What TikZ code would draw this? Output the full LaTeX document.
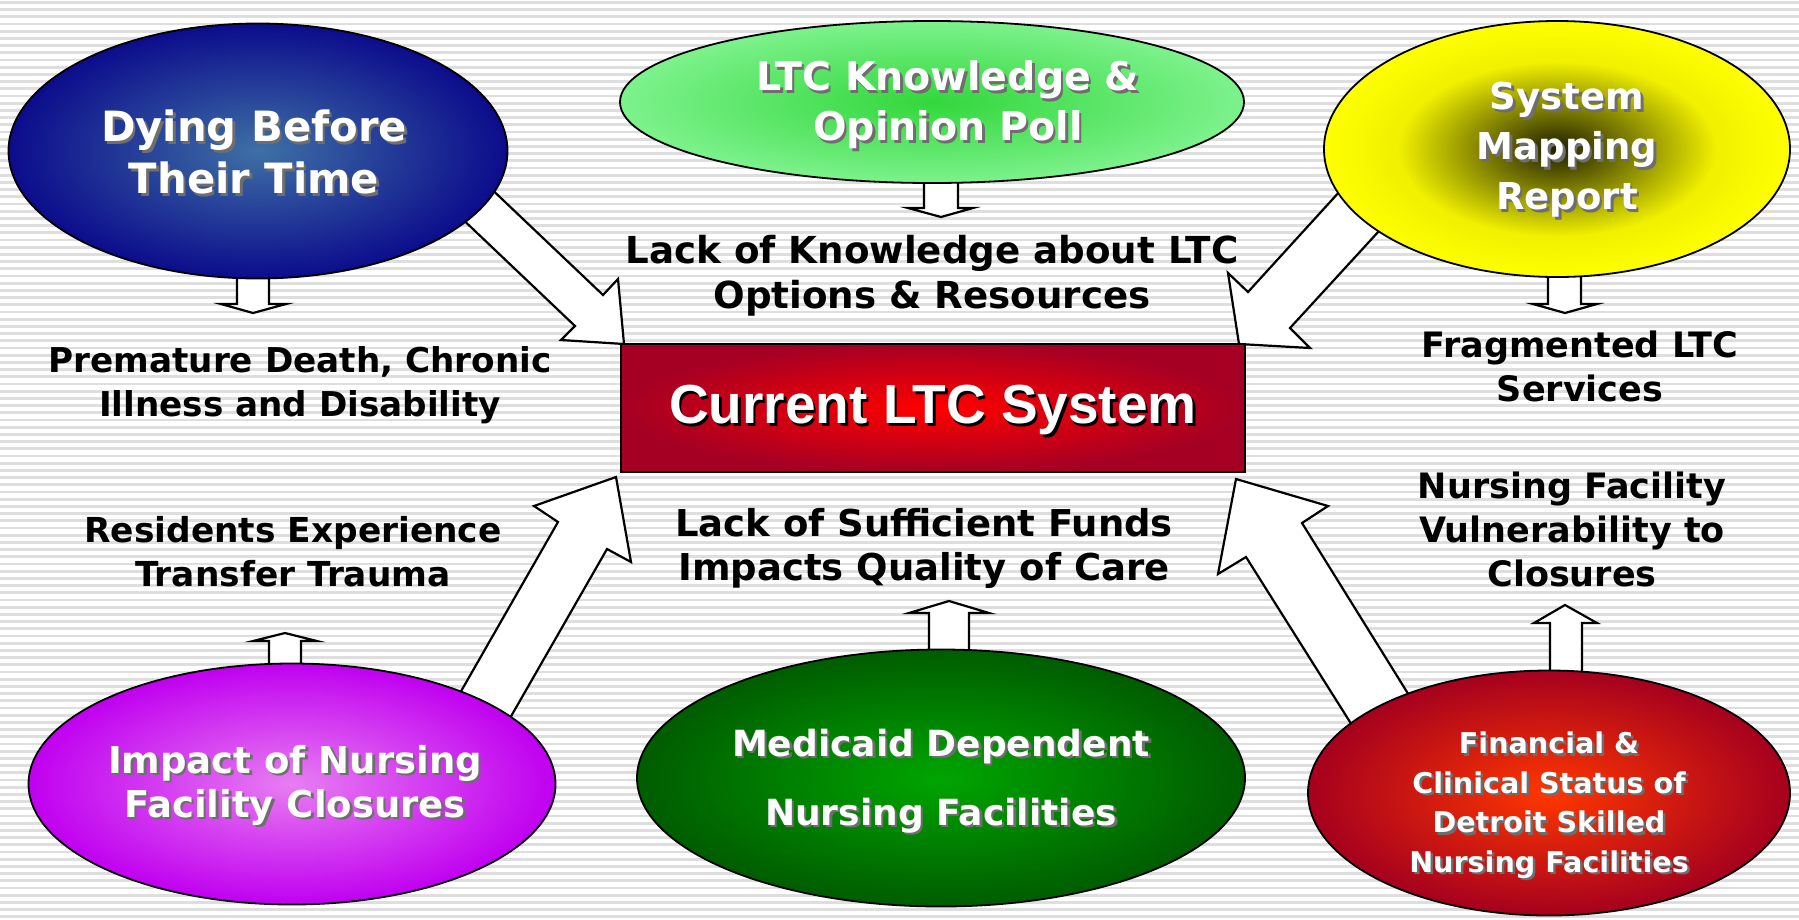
\documentclass[tikz,border=0pt]{standalone}
\usepackage{fontspec}
\setmainfont{DejaVu Sans}
\newfontfamily\curfont{Liberation Sans}
\usetikzlibrary{shapes.geometric}
\definecolor{stripec}{RGB}{222,222,222}
\definecolor{shadowc}{RGB}{110,110,110}
\definecolor{dyin}{RGB}{62,112,165}
\definecolor{dyout}{RGB}{12,12,140}
\definecolor{ltcin}{RGB}{50,215,60}
\definecolor{ltcout}{RGB}{125,242,140}
\definecolor{curin}{RGB}{255,0,0}
\definecolor{curout}{RGB}{165,0,35}
\definecolor{impin}{RGB}{232,125,242}
\definecolor{impout}{RGB}{192,0,240}
\definecolor{medin}{RGB}{0,165,0}
\definecolor{medout}{RGB}{0,92,0}
\definecolor{finin}{RGB}{255,55,0}
\definecolor{finout}{RGB}{165,0,30}
\definecolor{sysA}{RGB}{30,30,0}
\definecolor{sysB}{RGB}{140,140,0}
\definecolor{sysC}{RGB}{240,240,0}
\pgfdeclareradialshading{sysshade}{\pgfpoint{0bp}{0bp}}{color(0bp)=(sysA); color(9bp)=(sysB); color(17bp)=(sysC); color(25bp)=(yellow); color(50bp)=(yellow)}
\newcommand\mytitle[4]{%
  \node[ttl,#3,text=shadowc,xshift=2.5pt,yshift=-2.5pt] (#1s) at (#2) {#4};
  \node[ttl,#3] (#1) at (#2) {#4};}
\tikzset{
  ell/.style={ellipse, draw=black, line width=1.8pt, inner sep=0pt},
  blk/.style={fill=white, draw=black, line width=2.2pt, line join=miter},
  ttl/.style={text=white, align=center, inner sep=0pt},
  lab/.style={text=black, align=center, inner sep=0pt, font=\bfseries\fontsize{35}{44}\selectfont},
}
\begin{document}
\begin{tikzpicture}[x=1pt,y=-1pt]
\useasboundingbox (0,0) rectangle (1799,919);
\fill[white] (0,0) rectangle (1799,919);
\foreach \i in {0,...,127} \fill[stripec] (0,{1+\i*7.2}) rectangle (1799,{3.7+\i*7.2});

% big block arrows
\draw[blk] (483,181) -- (603,295) -- (618,279) -- (624,344) -- (561,340) -- (575,326) -- (454,211) -- cycle;
\draw[blk] (1351,179) -- (1248,292) -- (1228,273) -- (1239,344) -- (1310,348) -- (1290,328) -- (1390,219) -- cycle;
\draw[blk] (616,477) -- (631,562) -- (607,549) -- (498,739) -- (448,714) -- (558,522) -- (534,506) -- cycle;
\draw[blk] (1236,479) -- (1328,506) -- (1302,523) -- (1425,721) -- (1367,749) -- (1246,557) -- (1218,574) -- cycle;

% small block arrows
\draw[blk] (924,165) -- (924,208) -- (908,208) -- (941,217) -- (973,208) -- (958,208) -- (958,165) -- cycle;
\draw[blk] (237,262) -- (237,304) -- (221,304) -- (253,313) -- (286,304) -- (269,304) -- (269,262) -- cycle;
\draw[blk] (1548,262) -- (1548,304) -- (1533,304) -- (1565,313) -- (1597,304) -- (1581,304) -- (1581,262) -- cycle;
\draw[blk] (269,680) -- (269,641) -- (253,641) -- (285,633) -- (317,641) -- (301,641) -- (301,680) -- cycle;
\draw[blk] (929,665) -- (929,613) -- (909,613) -- (949,601) -- (989,613) -- (969,613) -- (969,665) -- cycle;
\draw[blk] (1550,690) -- (1550,623) -- (1534,623) -- (1565,605) -- (1597,623) -- (1582,623) -- (1582,690) -- cycle;

% ellipses
\node[ell, minimum width=499pt, minimum height=255pt, inner color=dyin, outer color=dyout] (dying) at (258,151) {};
\node[ell, minimum width=624pt, minimum height=162pt, inner color=ltcin, outer color=ltcout] (poll) at (932,102) {};
\node[ell, minimum width=466pt, minimum height=256pt, shading=sysshade] (sysmap) at (1557,149) {};
\node[ell, minimum width=527pt, minimum height=241pt, inner color=impin, outer color=impout] (impact) at (292,784) {};
\node[ell, minimum width=608pt, minimum height=257pt, inner color=medin, outer color=medout] (medicaid) at (941,778) {};
\node[ell, minimum width=482pt, minimum height=245pt, inner color=finin, outer color=finout] (financial) at (1549,793) {};

% central rectangle
\node[draw=black, line width=2.5pt, minimum width=624pt, minimum height=128pt, inner color=curin, outer color=curout, inner sep=0pt] (current) at (933,408) {};
\node[text=black, inner sep=0pt, font=\curfont\bfseries\fontsize{55}{60}\selectfont, xshift=2.5pt, yshift=-2.5pt] (currents) at (933,410) {Current LTC System};
\node[text=white, inner sep=0pt, font=\curfont\bfseries\fontsize{55}{60}\selectfont] (currentt) at (933,410) {Current LTC System};

% titles
\mytitle{tdying}{254,152}{font=\bfseries\fontsize{41.7}{52}\selectfont}{Dying Before\\Their Time}
\mytitle{tpoll}{948,105}{font=\bfseries\fontsize{39.5}{50}\selectfont}{LTC Knowledge \&\\Opinion Poll}
\mytitle{tsys}{1567,150}{font=\bfseries\fontsize{37}{50}\selectfont}{System\\Mapping\\Report}
\mytitle{timpact}{295,785}{font=\bfseries\fontsize{37}{44}\selectfont}{Impact of Nursing\\Facility Closures}
\mytitle{tmed}{941,781}{font=\bfseries\fontsize{36}{69}\selectfont}{Medicaid Dependent\\Nursing Facilities}
\mytitle{tfin}{1549,805}{font=\bfseries\fontsize{28.6}{39.5}\selectfont}{Financial \&\\Clinical Status of\\Detroit Skilled\\Nursing Facilities}

% labels
\node[lab, font=\bfseries\fontsize{37.2}{45}\selectfont] (lknow) at (932,276) {Lack of Knowledge about LTC\\Options \& Resources};
\node[lab, font=\bfseries\fontsize{34.2}{44}\selectfont] (lprem) at (300,385) {Premature Death, Chronic\\Illness and Disability};
\node[lab] (lfrag) at (1580,366) {Fragmented LTC\\Services};
\node[lab, font=\bfseries\fontsize{34.4}{44}\selectfont] (lres) at (293,552) {Residents Experience\\Transfer Trauma};
\node[lab, font=\bfseries\fontsize{37}{44}\selectfont] (lfund) at (924,548) {Lack of Sufficient Funds\\Impacts Quality of Care};
\node[lab] (lvul) at (1572,529) {Nursing Facility\\Vulnerability to\\Closures};
\end{tikzpicture}
\end{document}
